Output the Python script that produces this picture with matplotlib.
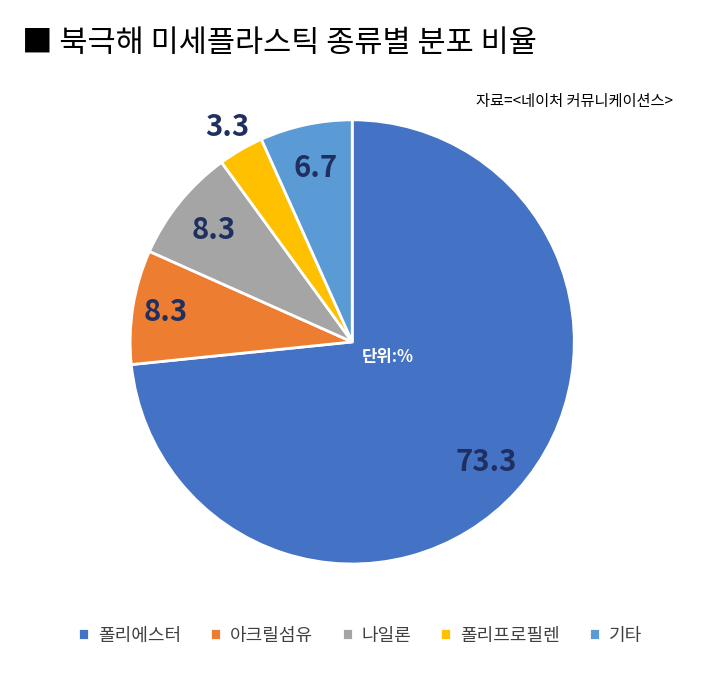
import numpy as np
import matplotlib.pyplot as plt
from matplotlib import font_manager

names = {f.name for f in font_manager.fontManager.ttflist}
cands = [n for n in ['Noto Sans CJK KR', 'Noto Sans CJK JP', 'Noto Sans CJK SC',
                     'Noto Sans CJK TC'] if n in names]
plt.rcParams['font.family'] = cands + ['DejaVu Sans']

labels = ['폴리에스터', '아크릴섬유', '나일론', '폴리프로필렌', '기타']
values = [73.3, 8.3, 8.3, 3.3, 6.7]
colors = ['#4472C4', '#ED7D31', '#A5A5A5', '#FFC000', '#5B9BD5']
label_r = [0.81, 0.85, 0.80, 1.12, 0.80]

fig = plt.figure(figsize=(7.2, 6.74), dpi=100)
ax = fig.add_axes([0.1807, 0.1632, 0.617, 0.659])
wedges, _ = ax.pie(values, colors=colors, startangle=90, counterclock=False,
                   wedgeprops=dict(edgecolor='white', linewidth=2))
ax.set_xlim(-1, 1)
ax.set_ylim(-1, 1)
ax.set_aspect('equal')

for w, v, r in zip(wedges, values, label_r):
    ang = np.deg2rad((w.theta1 + w.theta2) / 2)
    ax.text(r * np.cos(ang), r * np.sin(ang), f'{v}', ha='center', va='center',
            fontsize=21, fontweight='bold', color='#1F2F5F')

ax.text(0.16, -0.07, '단위:%', ha='center', va='center', fontsize=12,
        fontweight='bold', color='white')

fig.text(0.03, 0.935, '■ 북극해 미세플라스틱 종류별 분포 비율', fontsize=22,
         va='center', ha='left')
fig.text(0.935, 0.85, '자료=<네이처 커뮤니케이션스>', fontsize=11,
         va='center', ha='right')

ax.legend(wedges, labels, loc='center', bbox_to_anchor=(0.5, 0.057),
          bbox_transform=fig.transFigure, ncol=5, frameon=False,
          fontsize=13, handlelength=0.6, handleheight=0.6, columnspacing=1.6,
          handletextpad=0.5, labelcolor='#404040')

fig.savefig('out.png', dpi=100)
